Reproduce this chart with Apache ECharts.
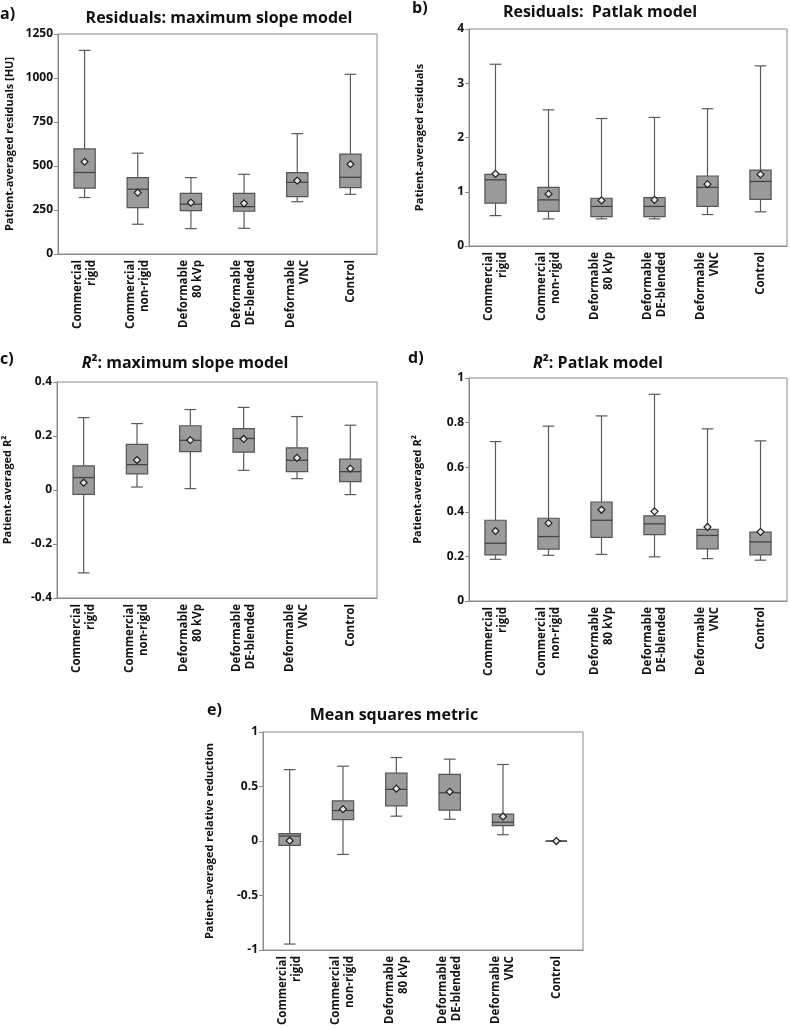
<!DOCTYPE html>
<html>
<head>
<meta charset="utf-8">
<script src="https://cdn.jsdelivr.net/npm/echarts@6/dist/echarts.min.js"></script>
<style>
html,body{margin:0;padding:0;background:#fff;}
#chart{width:790px;height:1028px;}
</style>
</head>
<body>
<div id="chart"></div>
<script>
// Categories (x axis)
const categories = ['Commercial\nrigid', 'Commercial\nnon-rigid', 'Deformable\n80 kVp', 'Deformable\nDE-blended', 'Deformable\nVNC', 'Control'];

// Each row: [min, q1, median, q3, max, mean]
const residualsMaxSlope = [
  [321, 374, 463, 597, 1157, 524],
  [169, 264, 368, 434, 573, 349],
  [144, 247, 283, 345, 434, 292],
  [146, 243, 269, 345, 453, 288],
  [297, 326, 407, 462, 684, 417],
  [339, 377, 436, 568, 1021, 510]
];
const residualsPatlak = [
  [0.56, 0.79, 1.22, 1.32, 3.35, 1.33],
  [0.50, 0.64, 0.85, 1.08, 2.51, 0.96],
  [0.50, 0.54, 0.73, 0.88, 2.35, 0.84],
  [0.50, 0.54, 0.73, 0.89, 2.37, 0.85],
  [0.58, 0.73, 1.08, 1.29, 2.53, 1.14],
  [0.63, 0.86, 1.19, 1.40, 3.32, 1.32]
];
const r2MaxSlope = [
  [-0.307, -0.016, 0.046, 0.089, 0.268, 0.027],
  [0.011, 0.060, 0.094, 0.169, 0.246, 0.111],
  [0.005, 0.142, 0.184, 0.238, 0.298, 0.185],
  [0.073, 0.140, 0.191, 0.227, 0.306, 0.189],
  [0.042, 0.068, 0.110, 0.156, 0.272, 0.119],
  [-0.017, 0.031, 0.068, 0.114, 0.240, 0.079]
];
const r2Patlak = [
  [0.187, 0.207, 0.259, 0.362, 0.715, 0.314],
  [0.205, 0.233, 0.289, 0.371, 0.784, 0.349],
  [0.209, 0.285, 0.362, 0.444, 0.830, 0.409],
  [0.198, 0.298, 0.346, 0.382, 0.927, 0.402],
  [0.190, 0.234, 0.294, 0.321, 0.772, 0.332],
  [0.183, 0.207, 0.265, 0.309, 0.718, 0.310]
];
const meanSquares = [
  [-0.945, -0.040, 0.046, 0.068, 0.655, 0.003],
  [-0.123, 0.197, 0.280, 0.369, 0.686, 0.292],
  [0.228, 0.323, 0.474, 0.622, 0.766, 0.480],
  [0.200, 0.283, 0.443, 0.612, 0.751, 0.452],
  [0.058, 0.142, 0.172, 0.246, 0.702, 0.225],
  [0, 0, 0, 0, 0, 0]
];

// Y axis settings per panel
const yMins = [0, 0, -0.4, 0, -1];
const yMaxs = [1250, 4, 0.4, 1, 1];
const yIntervals = [250, 1, 0.2, 0.2, 0.5];
const yNames = ['Patient-averaged residuals [HU]', 'Patient-averaged residuals', 'Patient-averaged R²', 'Patient-averaged R²', 'Patient-averaged relative reduction'];

const panels = [residualsMaxSlope, residualsPatlak, r2MaxSlope, r2Patlak, meanSquares];

const grids = [
  {left: 58, top: 34, width: 319, height: 220},
  {left: 469, top: 29, width: 318, height: 217},
  {left: 57, top: 382, width: 320, height: 216},
  {left: 469, top: 378, width: 318, height: 223},
  {left: 263, top: 732, width: 320, height: 220}
];
const nameGaps = [43, 44, 44, 46, 48];

const FONT = '"Open Sans"';
const frameColor = '#8a8a8a';

function renderBox(params, api) {
  const i = api.value(0);
  const band = api.size([1, 0])[0];
  const bw = band * 0.4;
  const cw = band * 0.22;
  const pMin = api.coord([i, api.value(1)]);
  const pQ1 = api.coord([i, api.value(2)]);
  const pMed = api.coord([i, api.value(3)]);
  const pQ3 = api.coord([i, api.value(4)]);
  const pMax = api.coord([i, api.value(5)]);
  const pMean = api.coord([i, api.value(6)]);
  const x = pMed[0];
  const lineStyle = {stroke: '#5a5a5a', lineWidth: 1.2, fill: null};
  const children = [
    {type: 'line', shape: {x1: x, y1: pQ3[1], x2: x, y2: pMax[1]}, style: lineStyle},
    {type: 'line', shape: {x1: x, y1: pQ1[1], x2: x, y2: pMin[1]}, style: lineStyle},
    {type: 'line', shape: {x1: x - cw / 2, y1: pMax[1], x2: x + cw / 2, y2: pMax[1]}, style: lineStyle},
    {type: 'line', shape: {x1: x - cw / 2, y1: pMin[1], x2: x + cw / 2, y2: pMin[1]}, style: lineStyle},
    {type: 'rect', shape: {x: x - bw / 2, y: pQ3[1], width: bw, height: Math.max(pQ1[1] - pQ3[1], 0)},
      style: {fill: '#9b9b9b', stroke: '#555', lineWidth: 1.2}},
    {type: 'line', shape: {x1: x - bw / 2, y1: pMed[1], x2: x + bw / 2, y2: pMed[1]}, style: {stroke: '#444', lineWidth: 1.3}},
    {type: 'polygon', shape: {points: [[x, pMean[1] - 3.5], [x + 3.5, pMean[1]], [x, pMean[1] + 3.5], [x - 3.5, pMean[1]]]},
      style: {fill: '#e6e6e6', stroke: '#222', lineWidth: 1.2}}
  ];
  return {type: 'group', children: children};
}

const fmt = v => String(Math.round(v * 1000) / 1000);

const option = {
  animation: false,
  backgroundColor: '#fff',
  textStyle: {fontFamily: FONT},
  grid: grids.map(g => Object.assign({show: true, borderColor: frameColor, borderWidth: 1, backgroundColor: 'transparent'}, g)),
  xAxis: grids.map((g, k) => ({
    type: 'category', gridIndex: k, data: categories, boundaryGap: true,
    axisLine: {onZero: false, lineStyle: {color: frameColor}},
    axisTick: {alignWithLabel: true, length: 4, lineStyle: {color: frameColor}},
    axisLabel: {rotate: 90, interval: 0, color: '#111', fontFamily: FONT, fontWeight: 'bold', fontSize: 11.5, lineHeight: 14, margin: 6}
  })),
  yAxis: grids.map((g, k) => ({
    type: 'value', gridIndex: k, min: yMins[k], max: yMaxs[k], interval: yIntervals[k],
    name: yNames[k], nameLocation: 'middle', nameGap: nameGaps[k], nameRotate: 90,
    nameTextStyle: {color: '#111', fontFamily: FONT, fontWeight: 'bold', fontSize: 11},
    axisLine: {show: true, onZero: false, lineStyle: {color: frameColor}},
    axisTick: {show: true, length: 4, lineStyle: {color: frameColor}},
    splitLine: {show: false},
    axisLabel: {color: '#111', fontFamily: FONT, fontWeight: 'bold', fontSize: 12, margin: 5, formatter: fmt}
  })),
  series: panels.map((rows, k) => ({
    type: 'custom', xAxisIndex: k, yAxisIndex: k,
    renderItem: renderBox,
    encode: {x: 0, y: [1, 2, 3, 4, 5, 6]},
    data: rows.map((r, i) => [i].concat(r))
  })),
  graphic: [
    {type: 'text', left: 0, top: 6, style: {text: 'a)', font: 'bold 16px ' + FONT, fill: '#111'}},
    {type: 'text', x: 219, y: 18, style: {text: 'Residuals: maximum slope model', font: 'bold 16px ' + FONT, fill: '#111', textAlign: 'center', textVerticalAlign: 'middle'}},
    {type: 'text', left: 412, top: 0, style: {text: 'b)', font: 'bold 16px ' + FONT, fill: '#111'}},
    {type: 'text', x: 600, y: 12, style: {text: 'Residuals:  Patlak model', font: 'bold 16px ' + FONT, fill: '#111', textAlign: 'center', textVerticalAlign: 'middle'}},
    {type: 'text', left: 0, top: 351, style: {text: 'c)', font: 'bold 16px ' + FONT, fill: '#111'}},
    {type: 'text', x: 185, y: 363, style: {
      text: '{i|R}{n|²: maximum slope model}', textAlign: 'center', textVerticalAlign: 'middle',
      rich: {i: {font: 'italic bold 16px ' + FONT, fill: '#111'}, n: {font: 'bold 16px ' + FONT, fill: '#111'}}}},
    {type: 'text', left: 408, top: 350, style: {text: 'd)', font: 'bold 16px ' + FONT, fill: '#111'}},
    {type: 'text', x: 598, y: 363, style: {
      text: '{i|R}{n|²: Patlak model}', textAlign: 'center', textVerticalAlign: 'middle',
      rich: {i: {font: 'italic bold 16px ' + FONT, fill: '#111'}, n: {font: 'bold 16px ' + FONT, fill: '#111'}}}},
    {type: 'text', left: 207, top: 702, style: {text: 'e)', font: 'bold 16px ' + FONT, fill: '#111'}},
    {type: 'text', x: 394, y: 715, style: {text: 'Mean squares metric', font: 'bold 16px ' + FONT, fill: '#111', textAlign: 'center', textVerticalAlign: 'middle'}}
  ]
};

const chart = echarts.init(document.getElementById('chart'), null, {renderer: 'canvas'});
chart.setOption(option);
</script>
</body>
</html>
